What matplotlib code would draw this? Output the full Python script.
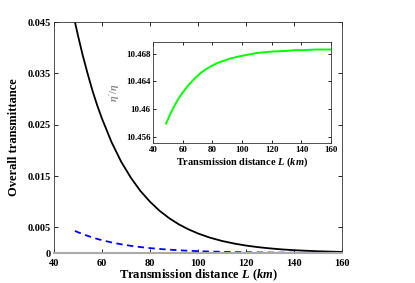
import matplotlib
matplotlib.use("Agg")
import matplotlib.pyplot as plt

# values
dist_km = [48.75, 50, 52, 54, 56, 58, 60, 64, 68, 72, 76, 80, 84, 88, 92, 96, 100,
           105, 110, 115, 120, 125, 130, 135, 140, 145, 150, 155, 160]
trans_black = [0.0450, 0.0424, 0.0385, 0.0350, 0.0317, 0.0288, 0.0262, 0.0216,
               0.0178, 0.0147, 0.0121, 0.0100, 0.00823, 0.00679, 0.00559,
               0.00462, 0.00381, 0.00299, 0.00235, 0.00185, 0.00145, 0.00114,
               0.00090, 0.00070, 0.00055, 0.00044, 0.00034, 0.00027, 0.00021]
trans_blue = [0.00430, 0.00405, 0.00368, 0.00335, 0.00303, 0.00275, 0.00250,
              0.00206, 0.00170, 0.00140, 0.00116, 0.000955, 0.000786, 0.000649,
              0.000534, 0.000441, 0.000364, 0.000286, 0.000224, 0.000177,
              0.000139, 0.000109, 0.000086, 0.000067, 0.000053, 0.000042,
              0.000032, 0.000026, 0.000020]
ratio_green = [10.4579, 10.4585, 10.4595, 10.4603, 10.4611, 10.4618, 10.4624,
               10.4635, 10.4644, 10.4652, 10.4658, 10.4663, 10.4667, 10.4670,
               10.4673, 10.4675, 10.4677, 10.4679, 10.4681, 10.4682, 10.4683,
               10.46835, 10.4684, 10.4685, 10.4685, 10.46855, 10.4686, 10.4686,
               10.4686]

main_yticks = [0, 0.005, 0.015, 0.025, 0.035, 0.045]
main_ylabels = ['0', '0.005', '0.015', '0.025', '0.035', '0.045']
inset_yticks = [10.456, 10.46, 10.464, 10.468]
inset_ylabels = ['10.456', '10.46', '10.464', '10.468']
xticks = [40, 60, 80, 100, 120, 140, 160]

plt.rcParams['font.family'] = ['Liberation Serif', 'DejaVu Serif']
plt.rcParams['mathtext.fontset'] = 'custom'
plt.rcParams['mathtext.it'] = 'Liberation Serif:italic:bold'
plt.rcParams['mathtext.rm'] = 'Liberation Serif:bold'

fig = plt.figure(figsize=(4.15, 2.83), dpi=100)

ax = fig.add_axes([0.130, 0.106, 0.694, 0.816])
ax.plot(dist_km, trans_black, color='black', lw=1.3)
ax.plot(dist_km, trans_blue, color='blue', lw=1.3, ls=(0, (3.5, 2.5)))
ax.set_xlim(40, 160)
ax.set_ylim(0, 0.045)
ax.set_xticks(xticks)
ax.set_xticklabels([str(t) for t in xticks], fontweight='bold', fontsize=7.5)
ax.set_yticks(main_yticks)
ax.set_yticklabels(main_ylabels, fontweight='bold', fontsize=7.5)
ax.tick_params(direction='in', top=True, right=True, length=3, width=0.6, pad=2)
ax.tick_params(axis='x', pad=4)
ax.set_xlabel('Transmission distance $L$ $(km)$', fontweight='bold', fontsize=9, labelpad=0)
ax.set_ylabel('Overall transmittance', fontweight='bold', fontsize=9, labelpad=6)
for side in ['left', 'right', 'top']:
    ax.spines[side].set_linewidth(0.6)
    ax.spines[side].set_color('#333333')
ax.spines['bottom'].set_color('#aaaaaa')
ax.spines['bottom'].set_linewidth(1.5)

ins = fig.add_axes([0.369, 0.495, 0.429, 0.357])
ins.plot(dist_km, ratio_green, color='#00ff00', lw=1.4)
ins.set_xlim(40, 160)
ins.set_ylim(10.4551, 10.4697)
ins.set_xticks(xticks)
ins.set_xticklabels([str(t) for t in xticks], fontweight='bold', fontsize=6.5)
ins.set_yticks(inset_yticks)
ins.set_yticklabels(inset_ylabels, fontweight='bold', fontsize=6.5)
ins.tick_params(direction='in', top=True, right=True, length=2.5, width=0.6, pad=2)
ins.set_xlabel('Transmission distance $L$ $(km)$', fontweight='bold', fontsize=7.5, labelpad=1)
ins.set_ylabel("$\\eta'/\\eta$", color='#888888', fontsize=7.5, labelpad=3)
for side in ins.spines:
    ins.spines[side].set_linewidth(0.6)
    ins.spines[side].set_color('#333333')

fig.savefig('out.png', dpi=100)
